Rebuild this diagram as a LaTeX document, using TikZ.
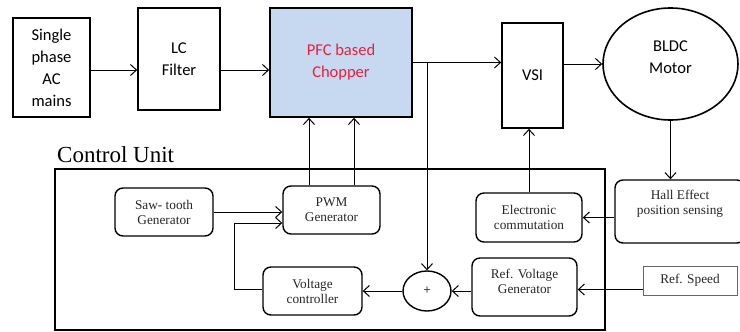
\documentclass[tikz,border=0pt]{standalone}
\usepackage{fontspec}
\usetikzlibrary{arrows.meta,shapes.geometric}
\newfontfamily\topfont{Carlito}
\newfontfamily\ctlfont{Liberation Serif}
\definecolor{pfcblue}{RGB}{198,217,241}
\definecolor{pfcred}{RGB}{232,32,60}
\tikzset{
  topbox/.style={draw, line width=1.6pt, inner sep=0pt, align=center, font=\topfont\fontsize{16.5}{22}\selectfont},
  ctlbox/.style={draw, line width=1.4pt, rounded corners=8pt, inner sep=0pt, align=center, font=\ctlfont\fontsize{13.3}{15}\selectfont, text=black!85},
  ctltext/.style={inner sep=0pt, align=center, font=\ctlfont\fontsize{13.3}{15}\selectfont, text=black!85},
  toptext/.style={inner sep=0pt, align=center, font=\topfont\fontsize{16.5}{22}\selectfont},
  arr/.style={line width=1pt, -{Straight Barb[length=6pt,width=11pt,line width=1pt]}},
  ln/.style={line width=1pt}
}
\begin{document}
\begin{tikzpicture}[x=1pt,y=-1pt]
\useasboundingbox (0,0) rectangle (740,332);
% control unit frame
\node[draw, line width=1.6pt, minimum width=550pt, minimum height=161pt, inner sep=0pt] (cu) at (330,249.5) {};
\node[anchor=base west, inner sep=0pt, font=\ctlfont\fontsize{23}{25}\selectfont] (culabel) at (57,162) {Control Unit};
% top row
\node[topbox, minimum width=77pt, minimum height=99pt] (ac) at (51.5,67.5) {Single\\phase\\AC\\mains};
\node[topbox, minimum width=82pt, minimum height=102pt] (lc) at (179,59) {LC\\Filter};
\node[topbox, fill=pfcblue, text=pfcred, minimum width=142pt, minimum height=109pt] (pfc) at (341,62.5) {PFC based\\Chopper};
\node[topbox, minimum width=61pt, minimum height=105pt] (vsi) at (532.5,75.5) {VSI};
\node[draw, ellipse, line width=1.6pt, minimum width=135pt, minimum height=112pt, inner sep=0pt] (bldc) at (670.5,64) {};
\node[toptext] (bldctext) at (670.5,57.5) {BLDC\\Motor};
% control blocks
\node[ctlbox, minimum width=98pt, minimum height=48pt] (saw) at (164,212) {Saw- tooth\\Generator};
\node[ctlbox, minimum width=97pt, minimum height=48pt] (pwm) at (331.5,210) {PWM\\Generator};
\node[ctlbox, minimum width=99pt, minimum height=48pt] (vc) at (312.5,291) {Voltage\\controller};
\node[draw, ellipse, line width=1.4pt, minimum width=48pt, minimum height=40pt, inner sep=0pt, font=\ctlfont\fontsize{13.3}{15}\selectfont] (sum) at (427,291) {+};
\node[ctlbox, minimum width=105pt, minimum height=58pt] (rvg) at (524.5,287) {};
\node[ctltext] (rvgtext) at (524.5,281) {Ref. Voltage\\Generator};
\node[draw, line width=0.6pt, draw=black!60, minimum width=94pt, minimum height=29pt, inner sep=0pt, font=\ctlfont\fontsize{13.3}{15}\selectfont, text=black!85] (rs) at (690,280.5) {Ref. Speed};
\node[ctlbox, minimum width=106pt, minimum height=49pt] (ec) at (529,217.5) {Electronic\\commutation};
\node[ctlbox, minimum width=130pt, minimum height=63pt] (hall) at (680,211.5) {};
\node[ctltext] (halltext) at (680,204) {Hall Effect\\position sensing};
% power path
\draw[arr] ([yshift=-2.5pt]ac.east) -- ([yshift=-2.5pt]ac.east -| lc.west);
\draw[arr] ([yshift=-11pt]lc.east) -- ([yshift=-11pt]lc.east -| pfc.west);
\draw[arr] (pfc.east) -- (pfc.east -| vsi.west);
\draw[arr] (pfc.east -| sum.north) -- (sum.north);
\draw[arr] (vsi.east |- bldc.west) -- (bldc.west);
\draw[arr] (bldc.south) -- (bldc.south |- hall.north);
\draw[arr] (ec.east -| hall.west) -- (ec.east);
\draw[arr] (ec.north) -- (ec.north |- vsi.south);
% control path
\draw[arr] ([yshift=-9pt]rs.west) -- ([yshift=-9pt]rs.west -| rvg.east);
\draw[arr] (sum.east -| rvg.west) -- (sum.east);
\draw[arr] (sum.west) -- (sum.west -| vc.east);
\draw[arr] ([yshift=2pt]vc.west) -- ++(-28,0) |- ([yshift=-13pt]pwm.west);
\draw[arr] (saw.east) -- (saw.east -| pwm.west);
\draw[arr] ([xshift=-22.5pt]pwm.north) -- ([xshift=-22.5pt]pwm.north |- pfc.south);
\draw[arr] ([xshift=22.5pt]pwm.north) -- ([xshift=22.5pt]pwm.north |- pfc.south);
\end{tikzpicture}
\end{document}
